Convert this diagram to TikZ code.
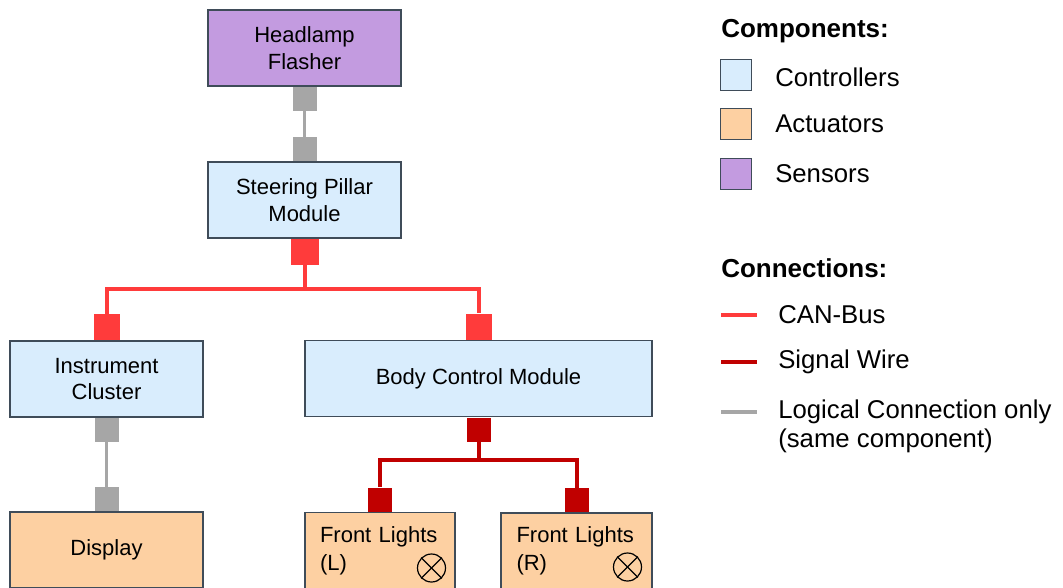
\documentclass[tikz,border=0pt]{standalone}
\usepackage{fontspec}
\setmainfont{Liberation Sans}
\usepackage{tikz}

\definecolor{ctrlblue}{HTML}{D9EDFD}
\definecolor{actpeach}{HTML}{FDD0A2}
\definecolor{senslila}{HTML}{C39BE0}
\definecolor{edgegray}{HTML}{3F4C59}
\definecolor{canred}{HTML}{FF3B3B}
\definecolor{sigred}{HTML}{C00000}
\definecolor{loggray}{HTML}{A6A6A6}

\tikzset{
  port/.style={rectangle, draw=none, inner sep=0pt, minimum size=18pt},
  canlink/.style={draw=canred, line width=3pt},
  siglink/.style={draw=sigred, line width=3pt},
  loglink/.style={draw=loggray, line width=2.6pt},
  lamp/.style={circle, draw=black, line width=0.9pt, minimum size=21pt, inner sep=0pt},
}

\begin{document}
\begin{tikzpicture}[x=0.75pt,y=-0.75pt]
        \useasboundingbox (0,0) rectangle (1063,588);

        \begin{scope}[every node/.style={rectangle, draw=edgegray, line width=1.1pt,
            minimum width=144.75pt, minimum height=57pt, align=center,
            font=\fontsize{16.5}{19.8}\selectfont}]
          \node[fill=senslila] (flasher) at (304.5,48)  {Headlamp\\Flasher};
          \node[fill=ctrlblue] (pillar)  at (304.5,200) {Steering Pillar\\Module};
          \node[fill=ctrlblue] (cluster) at (106.5,379) {Instrument\\Cluster};
          \node[fill=ctrlblue, minimum width=260.25pt] (bcm) at (478.5,378.5) {Body Control Module};
          \node[fill=actpeach] (display) at (106.5,550) {Display};
          \node[fill=actpeach, minimum width=112.5pt, text width=90pt, align=left,
            font=\fontsize{16.5}{21}\selectfont] (lightL) at (380,550.5) {Front Lights\\(L)};
          \node[fill=actpeach, minimum width=113pt, text width=90pt, align=left,
            font=\fontsize{16.5}{21}\selectfont] (lightR) at (576.5,551) {Front Lights\\(R)};
        \end{scope}

        % lamp symbols
        \node[lamp] (lampL) at (431.5,568) {};
        \node[lamp] (lampR) at (627.5,567) {};
        \foreach \l in {lampL,lampR} {
          \draw[line width=0.9pt] (\l.north west) -- (\l.south east);
          \draw[line width=0.9pt] (\l.north east) -- (\l.south west);
        }

        % ports
        \node[port, fill=loggray, anchor=north] (flasherS) at (flasher.south) {};
        \node[port, fill=loggray, anchor=south] (pillarN)  at (pillar.north)  {};
        \node[port, fill=canred, anchor=north, minimum width=21pt, minimum height=19.5pt] (pillarS) at (pillar.south) {};
        \node[port, fill=canred, anchor=south, minimum size=19.5pt] (clusterN) at (cluster.north) {};
        \node[port, fill=canred, anchor=south, minimum size=19.5pt] (bcmN)     at (bcm.north)     {};
        \node[port, fill=loggray, anchor=north] (clusterS) at (cluster.south) {};
        \node[port, fill=loggray, anchor=south] (displayN) at (display.north) {};
        \node[port, fill=sigred, anchor=north] (bcmS)    at (bcm.south)    {};
        \node[port, fill=sigred, anchor=south] (lightLN) at (lightL.north) {};
        \node[port, fill=sigred, anchor=south] (lightRN) at (lightR.north) {};

        % connections
        \path (pillarS.south) ++(0,24) coordinate (canjoin);
        \path (bcmS.south) ++(0,18) coordinate (sigjoin);
        \draw[loglink] (flasherS) -- (pillarN);
        \draw[loglink] (clusterS) -- (displayN);
        \draw[canlink] (pillarS) -- (canjoin);
        \draw[canlink] (clusterN.north) |- (canjoin) -| (bcmN.north);
        \draw[siglink] (bcmS) -- (sigjoin);
        \draw[siglink] (lightLN.north) |- (sigjoin) -| (lightRN.north);

        % legend
        \begin{scope}[every node/.style={anchor=west, inner sep=0pt, align=left,
            font=\fontsize{19.3}{21.75}\selectfont}]
          \node[font=\bfseries\fontsize{19.5}{23}\selectfont] (comphead) at (721,31)  {Components:};
          \node (ctrltext) at (775,77)  {Controllers};
          \node (acttext)  at (775,124) {Actuators};
          \node (senstext) at (775,174) {Sensors};
          \node[font=\bfseries\fontsize{19.5}{23}\selectfont] (connhead) at (721,268) {Connections:};
          \node (cantext) at (778,315) {CAN-Bus};
          \node (sigtext) at (778,362) {Signal Wire};
          \node (logtext) at (778,426.5) {Logical Connection only\\(same component)};
        \end{scope}

        \begin{scope}[every node/.style={rectangle, draw=edgegray, line width=1.1pt,
            minimum size=23pt, inner sep=0pt}]
          \node[fill=ctrlblue] (keyctrl) at (736,75)  {};
          \node[fill=actpeach] (keyact)  at (736,124) {};
          \node[fill=senslila] (keysens) at (736,174) {};
        \end{scope}

        \begin{scope}[every node/.style={rectangle, draw=none, inner sep=0pt,
            minimum width=27pt, minimum height=3pt}]
          \node[fill=canred]  (keycan) at (739,315) {};
          \node[fill=sigred]  (keysig) at (739,362) {};
          \node[fill=loggray] (keylog) at (739,412) {};
        \end{scope}

      \end{tikzpicture}
\end{document}
